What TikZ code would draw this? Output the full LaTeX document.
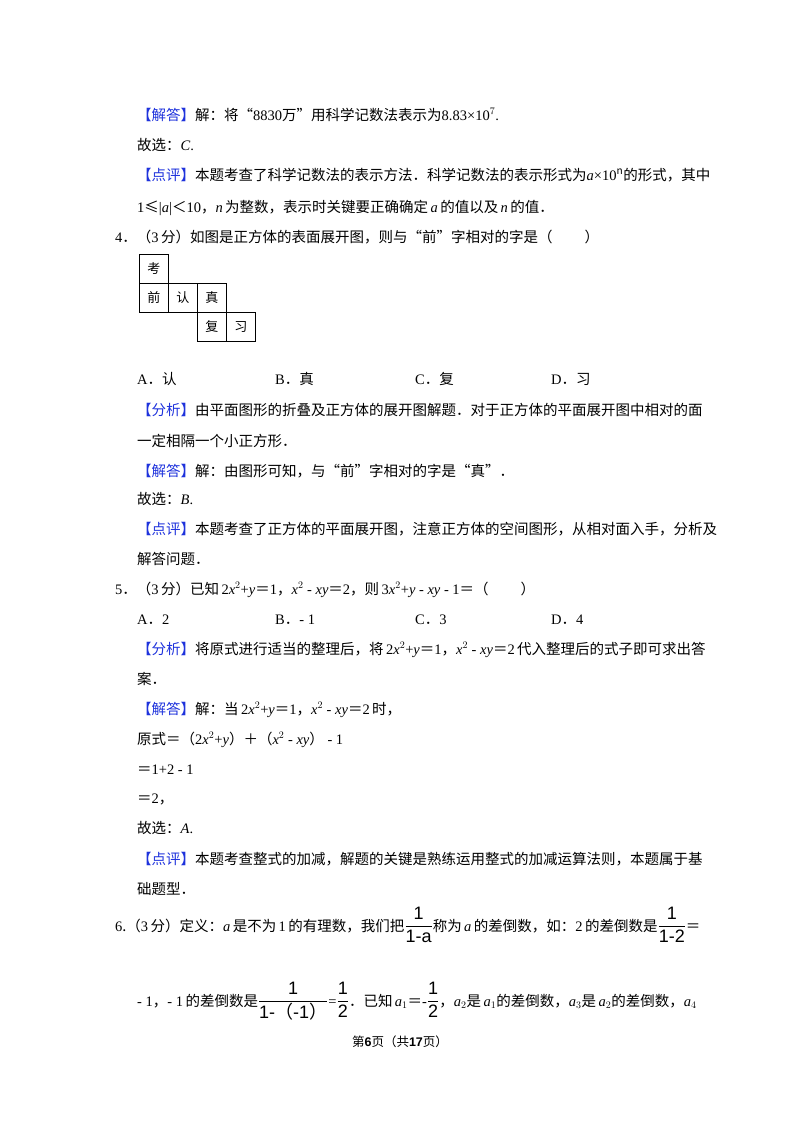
\documentclass[tikz,border=0pt]{standalone}
\usepackage{fontspec}
\setmainfont{Noto Sans CJK SC}
\newfontfamily\lat{Liberation Serif}
\newfontfamily\las{Liberation Sans}
\newcommand{\ita}[1]{{\lat\itshape #1}}
\newcommand{\nm}[1]{{\lat #1}}
\newcommand{\fr}[2]{{\las\fontsize{18}{20}\selectfont$\displaystyle\frac{\hbox{#1}}{\hbox{#2}}$}}
\definecolor{tagblue}{RGB}{30,50,220}
\newcommand{\tag}[1]{{\color{tagblue}【#1】}}
\begin{document}
\begin{tikzpicture}[x=1pt,y=-1pt,
  ln/.style={anchor=base west,inner sep=0pt,font=\fontsize{14.5}{17}\selectfont},
  cell/.style={draw,line width=0.9pt,minimum size=29pt,inner sep=0pt,anchor=north west,font=\fontsize{13}{15}\selectfont}]
\useasboundingbox (0,0) rectangle (800,1132);
\node[ln] (l1) at (137,120) {\tag{解答}解：将“\nm{8830}万”用科学记数法表示为\nm{8.83×10$^{7}$.}};
\node[ln] (l2) at (137,150) {故选：\ita{C}\nm{.}};
\node[ln] (l3) at (137,180) {\tag{点评}本题考查了科学记数法的表示方法．科学记数法的表示形式为\ita{a}\nm{×10$^{\mathit{n}}$}的形式，其中};
\node[ln] (l4) at (137,212) {\nm{1}≤\nm{|\ita{a}|}＜\nm{10}，\ita{n}\,为整数，表示时关键要正确确定\,\ita{a}\,的值以及\,\ita{n}\,的值．};
\node[ln] (l5) at (115,242) {\nm{4}．（\nm{3}\,分）如图是正方体的表面展开图，则与“前”字相对的字是（\hspace{2.2em}）};
\node[cell] (c1) at (139,254) {考};
\node[cell] (c2) at (139,283) {前};
\node[cell] (c3) at (168,283) {认};
\node[cell] (c4) at (197,283) {真};
\node[cell] (c5) at (197,312) {复};
\node[cell] (c6) at (226,312) {习};
\node[ln] (oa) at (137,384) {\nm{A}．认};
\node[ln] (ob) at (275,384) {\nm{B}．真};
\node[ln] (oc) at (415,384) {\nm{C}．复};
\node[ln] (od) at (551,384) {\nm{D}．习};
\node[ln] (l6) at (137,415) {\tag{分析}由平面图形的折叠及正方体的展开图解题．对于正方体的平面展开图中相对的面};
\node[ln] (l7) at (137,446) {一定相隔一个小正方形．};
\node[ln] (l8) at (137,476) {\tag{解答}解：由图形可知，与“前”字相对的字是“真”．};
\node[ln] (l9) at (137,504) {故选：\ita{B}\nm{.}};
\node[ln] (l10) at (137,534) {\tag{点评}本题考查了正方体的平面展开图，注意正方体的空间图形，从相对面入手，分析及};
\node[ln] (l11) at (137,564) {解答问题．};
\node[ln] (l12) at (115,594) {\nm{5}．（\nm{3}\,分）已知\,\nm{2\ita{x}$^2$+\ita{y}}＝\nm{1}，\ita{x}\nm{$^2$ - \ita{xy}}＝\nm{2}，则\,\nm{3\ita{x}$^2$+\ita{y} - \ita{xy} - 1}＝（\hspace{2.2em}）};
\node[ln] (pa) at (137,624) {\nm{A}．\nm{2}};
\node[ln] (pb) at (275,624) {\nm{B}．\nm{- 1}};
\node[ln] (pc) at (415,624) {\nm{C}．\nm{3}};
\node[ln] (pd) at (551,624) {\nm{D}．\nm{4}};
\node[ln] (l13) at (137,654) {\tag{分析}将原式进行适当的整理后，将\,\nm{2\ita{x}$^2$+\ita{y}}＝\nm{1}，\ita{x}\nm{$^2$ - \ita{xy}}＝\nm{2}\,代入整理后的式子即可求出答};
\node[ln] (l14) at (137,684) {案．};
\node[ln] (l15) at (137,714) {\tag{解答}解：当\,\nm{2\ita{x}$^2$+\ita{y}}＝\nm{1}，\ita{x}\nm{$^2$ - \ita{xy}}＝\nm{2}\,时，};
\node[ln] (l16) at (137,744) {原式＝（\nm{2\ita{x}$^2$+\ita{y}}）＋（\ita{x}\nm{$^2$ - \ita{xy}}）\nm{ - 1}};
\node[ln] (l17) at (137,774) {＝\nm{1+2 - 1}};
\node[ln] (l18) at (137,803) {＝\nm{2}，};
\node[ln] (l19) at (137,833) {故选：\ita{A}\nm{.}};
\node[ln] (l20) at (137,864) {\tag{点评}本题考查整式的加减，解题的关键是熟练运用整式的加减运算法则，本题属于基};
\node[ln] (l21) at (137,894) {础题型．};
\node[ln] (l22) at (115,931) {\nm{6}.（\nm{3}\,分）定义：\ita{a}\,是不为\,\nm{1}\,的有理数，我们把\fr{1}{1-a}称为\,\ita{a}\,的差倒数，如：\nm{2}\,的差倒数是\fr{1}{1-2}＝};
\node[ln] (l23) at (137,1006) {\nm{- 1}，\nm{- 1}\,的差倒数是\fr{1}{1-{\rmfamily （}-1{\rmfamily ）}}\nm{=}\fr{1}{2}．已知\,\ita{a}\nm{$_1$}＝\nm{-}\fr{1}{2}，\ita{a}\nm{$_2$}是\,\ita{a}\nm{$_1$}的差倒数，\ita{a}\nm{$_3$}是\,\ita{a}\nm{$_2$}的差倒数，\ita{a}\nm{$_4$}};
\node[anchor=base,inner sep=0pt,font=\fontsize{12.5}{14}\selectfont] (ft) at (400,1046) {第\textbf{\las 6}页（共\textbf{\las 17}页）};
\end{tikzpicture}
\end{document}
